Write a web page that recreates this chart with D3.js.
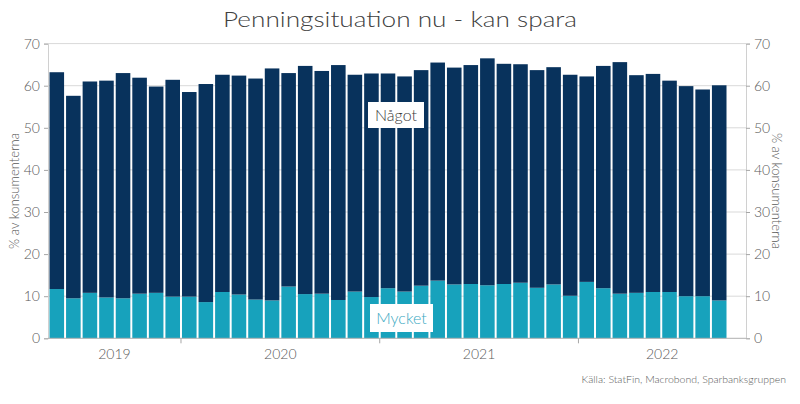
<!DOCTYPE html>
<html>
<head>
<meta charset="utf-8">
<script src="https://cdn.jsdelivr.net/npm/d3@7"></script>
<style>
  html, body { margin: 0; padding: 0; background: #fff; }
  svg { display: block; }
  text { font-family: "Lato", "Noto Sans", sans-serif; font-weight: 300; }
</style>
</head>
<body>
<svg id="chart" width="800" height="404"></svg>
<script>
// ---- Data ----
const months = [
  "2019-05","2019-06","2019-07","2019-08","2019-09","2019-10","2019-11","2019-12",
  "2020-01","2020-02","2020-03","2020-04","2020-05","2020-06","2020-07","2020-08","2020-09","2020-10","2020-11","2020-12",
  "2021-01","2021-02","2021-03","2021-04","2021-05","2021-06","2021-07","2021-08","2021-09","2021-10","2021-11","2021-12",
  "2022-01","2022-02","2022-03","2022-04","2022-05","2022-06","2022-07","2022-08","2022-09"
];
const mycket = [
  11.7, 9.5, 10.8, 9.7, 9.5, 10.6, 10.8, 9.9,
  9.9, 8.6, 11.0, 10.4, 9.2, 9.0, 12.3, 10.5, 10.6, 9.1, 11.1, 9.8,
  11.9, 11.1, 12.5, 13.7, 12.8, 12.9, 12.6, 12.9, 13.2, 12.0, 12.8, 10.1,
  13.4, 11.9, 10.6, 10.8, 11.0, 11.0, 10.0, 10.0, 9.0
];
const nagot = [
  51.5, 48.1, 50.2, 51.5, 53.5, 51.3, 49.0, 51.5,
  48.6, 51.8, 51.6, 52.0, 52.5, 55.1, 50.7, 54.2, 52.9, 55.8, 51.5, 53.1,
  51.0, 51.1, 51.2, 51.8, 51.5, 52.0, 53.9, 52.3, 51.9, 51.7, 51.6, 52.5,
  48.8, 52.8, 55.0, 51.7, 51.8, 50.2, 49.9, 49.1, 51.1
];
const yTicks = [0, 10, 20, 30, 40, 50, 60, 70];
const years = ["2019", "2020", "2021", "2022"];
const seriesNames = ["Mycket", "Något"];
const colors = { "Mycket": "#17a2bc", "Något": "#08325c" };

// ---- Layout ----
const svg = d3.select("#chart");
const plotL = 48, plotR = 746, plotT = 43.6, plotB = 338.3;

const x = d3.scaleBand().domain(months).range([49.5, 726.5]).paddingInner(0.12).paddingOuter(0);
const y = d3.scaleLinear().domain([0, 70]).range([plotB, plotT]);

const table = months.map((m, i) => ({ month: m, "Mycket": mycket[i], "Något": nagot[i] }));
const stacked = d3.stack().keys(seriesNames)(table);

// gridlines
svg.append("g").selectAll("line").data(yTicks.filter(d => d > 0)).join("line")
  .attr("x1", plotL).attr("x2", plotR)
  .attr("y1", d => y(d)).attr("y2", d => y(d))
  .attr("stroke", "#d9d9d9").attr("stroke-width", 1);

// bars
svg.append("g").selectAll("g").data(stacked).join("g")
  .attr("fill", d => colors[d.key])
  .selectAll("rect").data(d => d).join("rect")
  .attr("x", d => x(d.data.month))
  .attr("width", x.bandwidth())
  .attr("y", d => y(d[1]))
  .attr("height", d => y(d[0]) - y(d[1]));

// axes
const tickColor = "#a6a6a6";
const labelColor = "#595959";
const leftAxis = svg.append("g").attr("transform", `translate(${plotL},0)`)
  .call(d3.axisLeft(y).tickValues(yTicks).tickSize(4).tickPadding(4));
const rightAxis = svg.append("g").attr("transform", `translate(${plotR},0)`)
  .call(d3.axisRight(y).tickValues(yTicks).tickSize(4).tickPadding(4));
[leftAxis, rightAxis].forEach(a => {
  a.select(".domain").attr("stroke", "#d0d0d0");
  a.selectAll(".tick line").attr("stroke", tickColor);
  a.selectAll(".tick text").attr("fill", labelColor).attr("font-size", 14)
    .attr("font-family", "Lato, 'Noto Sans', sans-serif").attr("font-weight", 300);
});

// x axis baseline
svg.append("line").attr("x1", plotL).attr("x2", plotR)
  .attr("y1", plotB).attr("y2", plotB).attr("stroke", "#b0b0b0");

// year boundaries & labels
const gapHalf = (x.step() - x.bandwidth()) / 2;
const yearStart = yr => {
  const idx = months.findIndex(m => m.startsWith(yr));
  return idx === 0 ? plotL : x(months[idx]) - gapHalf;
};
const boundaries = years.slice(1).map(yr => yearStart(yr));
svg.append("g").selectAll("line").data(boundaries).join("line")
  .attr("x1", d => d).attr("x2", d => d)
  .attr("y1", plotB).attr("y2", plotB + 5)
  .attr("stroke", tickColor);
const edges = [plotL, ...boundaries, plotR];
svg.append("g").selectAll("text").data(years).join("text")
  .attr("x", (d, i) => (edges[i] + edges[i + 1]) / 2)
  .attr("y", 359)
  .attr("text-anchor", "middle")
  .attr("font-size", 14)
  .attr("fill", labelColor)
  .text(d => d);

// axis titles
svg.append("text")
  .attr("transform", `translate(19,${(plotT + plotB) / 2}) rotate(-90)`)
  .attr("text-anchor", "middle").attr("font-size", 13).attr("fill", labelColor)
  .text("% av konsumenterna");
svg.append("text")
  .attr("transform", `translate(772,${(plotT + plotB) / 2}) rotate(90)`)
  .attr("text-anchor", "middle").attr("font-size", 13).attr("fill", labelColor)
  .text("% av konsumenterna");

// title
svg.append("text")
  .attr("x", 400).attr("y", 27)
  .attr("text-anchor", "middle")
  .attr("font-size", 21)
  .attr("fill", "#404040")
  .attr("textLength", 354).attr("lengthAdjust", "spacingAndGlyphs")
  .text("Penningsituation nu - kan spara");

// series labels in boxes
function boxLabel(txt, cx, cy, w, h, color) {
  svg.append("rect").attr("x", cx - w / 2).attr("y", cy - h / 2)
    .attr("width", w).attr("height", h).attr("fill", "#ffffff");
  svg.append("text").attr("x", cx).attr("y", cy + 5.5)
    .attr("text-anchor", "middle").attr("font-size", 16).attr("fill", color)
    .text(txt);
}
boxLabel(seriesNames[1], 396, 115, 56, 26, "#3a3a3a");
boxLabel(seriesNames[0], 401.5, 318, 63, 28, "#3aa9c2");

// source
svg.append("text")
  .attr("x", 786).attr("y", 383)
  .attr("text-anchor", "end")
  .attr("font-size", 10.5)
  .attr("fill", labelColor)
  .text("Källa: StatFin, Macrobond, Sparbanksgruppen");
</script>
</body>
</html>
